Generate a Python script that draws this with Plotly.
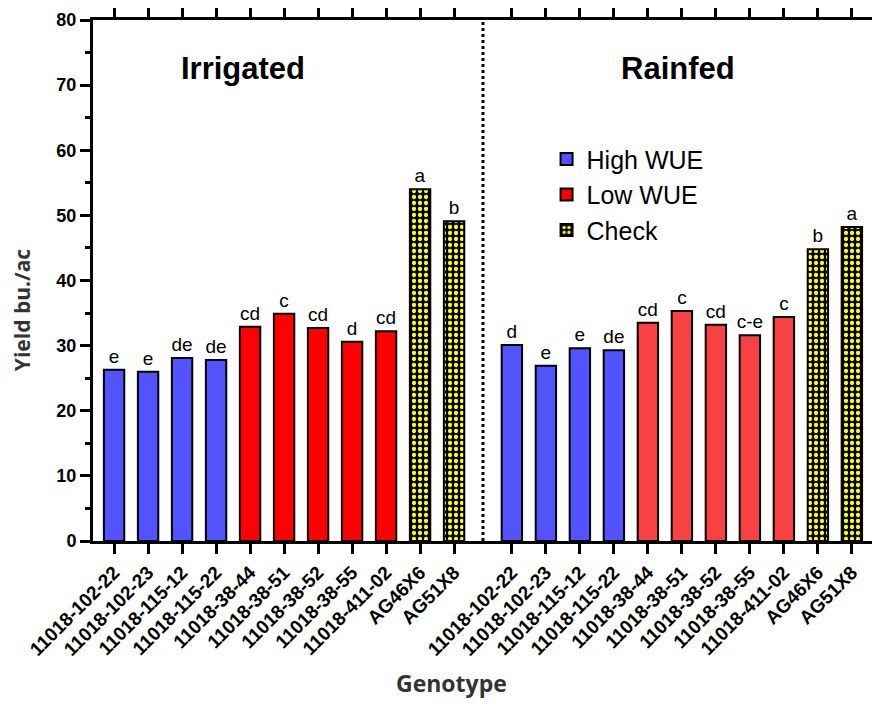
import plotly.graph_objects as go

genotypes = ["11018-102-22", "11018-102-23", "11018-115-12", "11018-115-22",
             "11018-38-44", "11018-38-51", "11018-38-52", "11018-38-55",
             "11018-411-02", "AG46X6", "AG51X8"]
groups = ["High WUE"] * 4 + ["Low WUE"] * 5 + ["Check"] * 2

irrigated = [26.3, 26.0, 28.1, 27.8, 32.9, 34.9, 32.7, 30.6, 32.2, 54.0, 49.1]
irrigated_letters = ["e", "e", "de", "de", "cd", "c", "cd", "d", "cd", "a", "b"]

rainfed = [30.1, 26.9, 29.6, 29.3, 33.5, 35.3, 33.2, 31.6, 34.4, 44.8, 48.2]
rainfed_letters = ["d", "e", "e", "de", "cd", "c", "cd", "c-e", "c", "b", "a"]

y_ticks = [0, 10, 20, 30, 40, 50, 60, 70, 80]

# positions on a numeric category axis
rain_offset = 11.7
x_irr = list(range(len(genotypes)))
x_rain = [i + rain_offset for i in x_irr]

FONT = "Liberation Sans, Arial, sans-serif"
blue = "#5252FF"
red_irr = "#FF0000"
red_rain = "#F84242"

fig = go.Figure()

def add_group(xs, vals, letters, grp, color, pattern, show):
    idx = [i for i, g in enumerate(groups) if g == grp]
    marker = dict(color=color, line=dict(color="black", width=2))
    if pattern:
        marker["pattern"] = dict(shape=".", bgcolor="black", fgcolor="#FFFF00",
                                 size=6, solidity=0.4, fillmode="replace")
    fig.add_trace(go.Bar(
        x=[xs[i] for i in idx], y=[vals[i] for i in idx],
        text=[letters[i] for i in idx], textposition="outside",
        constraintext="none", cliponaxis=False,
        textfont=dict(family=FONT, size=19, color="black"),
        width=0.6, marker=marker, name=grp, showlegend=show,
        hoverinfo="x+y"))

add_group(x_irr, irrigated, irrigated_letters, "High WUE", blue, False, True)
add_group(x_irr, irrigated, irrigated_letters, "Low WUE", red_irr, False, True)
add_group(x_irr, irrigated, irrigated_letters, "Check", "#FFFF00", True, True)
add_group(x_rain, rainfed, rainfed_letters, "High WUE", blue, False, False)
add_group(x_rain, rainfed, rainfed_letters, "Low WUE", red_rain, False, False)
add_group(x_rain, rainfed, rainfed_letters, "Check", "#FFFF00", True, False)

sep = (x_irr[-1] + x_rain[0]) / 2
fig.add_shape(type="line", x0=sep, x1=sep, xref="x", y0=0, y1=1, yref="y domain",
              line=dict(color="black", width=3, dash="dot"))

fig.add_annotation(x=(x_irr[0] + x_irr[-1]) / 2 - 1.2, y=72.6, xref="x", yref="y",
                   text="<b>Irrigated</b>", showarrow=False,
                   xanchor="center", yanchor="middle",
                   font=dict(family=FONT, size=31, color="black"))
fig.add_annotation(x=(x_rain[0] + x_rain[-1]) / 2 - 0.1, y=72.6, xref="x", yref="y",
                   text="<b>Rainfed</b>", showarrow=False,
                   xanchor="center", yanchor="middle",
                   font=dict(family=FONT, size=31, color="black"))
fig.add_annotation(x=-0.0908, y=0.445, xref="paper", yref="paper", textangle=-90,
                   text="<b>Yield bu./ac</b>", showarrow=False,
                   xanchor="center", yanchor="middle",
                   font=dict(family="Open Sans, sans-serif", size=21, color="#333333"))
fig.add_annotation(x=0.458, y=-0.2726, xref="paper", yref="paper",
                   text="<b>Genotype</b>", showarrow=False,
                   xanchor="center", yanchor="middle",
                   font=dict(family="Open Sans, sans-serif", size=23, color="#333333"))

fig.update_layout(
    width=872, height=699,
    margin=dict(l=85, r=5, t=12, b=166, autoexpand=False),
    plot_bgcolor="white", paper_bgcolor="white",
    barmode="overlay",
    font=dict(family=FONT, color="black"),
    legend=dict(x=0.580, y=0.777, xanchor="left", yanchor="top",
                font=dict(family=FONT, size=25, color="black"),
                bgcolor="rgba(0,0,0,0)", tracegroupgap=0),
    xaxis=dict(range=[-0.62, 22.38], tickvals=x_irr + x_rain,
               ticktext=[f"<b>{g}</b>" for g in genotypes] * 2,
               tickangle=-45, tickfont=dict(family=FONT, size=19, color="black"),
               showline=True, linecolor="black", linewidth=3, mirror="ticks",
               ticks="outside", ticklen=10, tickwidth=3, tickcolor="black",
               showgrid=False, zeroline=False, automargin=False),
    yaxis=dict(range=[0, 80], tickvals=y_ticks,
               ticktext=[f"<b>{v}</b>" for v in y_ticks],
               tickfont=dict(family=FONT, size=18, color="black"),
               showline=True, linecolor="black", linewidth=3, mirror="ticks",
               ticks="outside", ticklen=10, tickwidth=3, tickcolor="black",
               minor=dict(dtick=5, ticks="outside", ticklen=5, tickwidth=3,
                          tickcolor="black", showgrid=False),
               showgrid=False, zeroline=False, automargin=False),
)

fig.write_html("out.html")
